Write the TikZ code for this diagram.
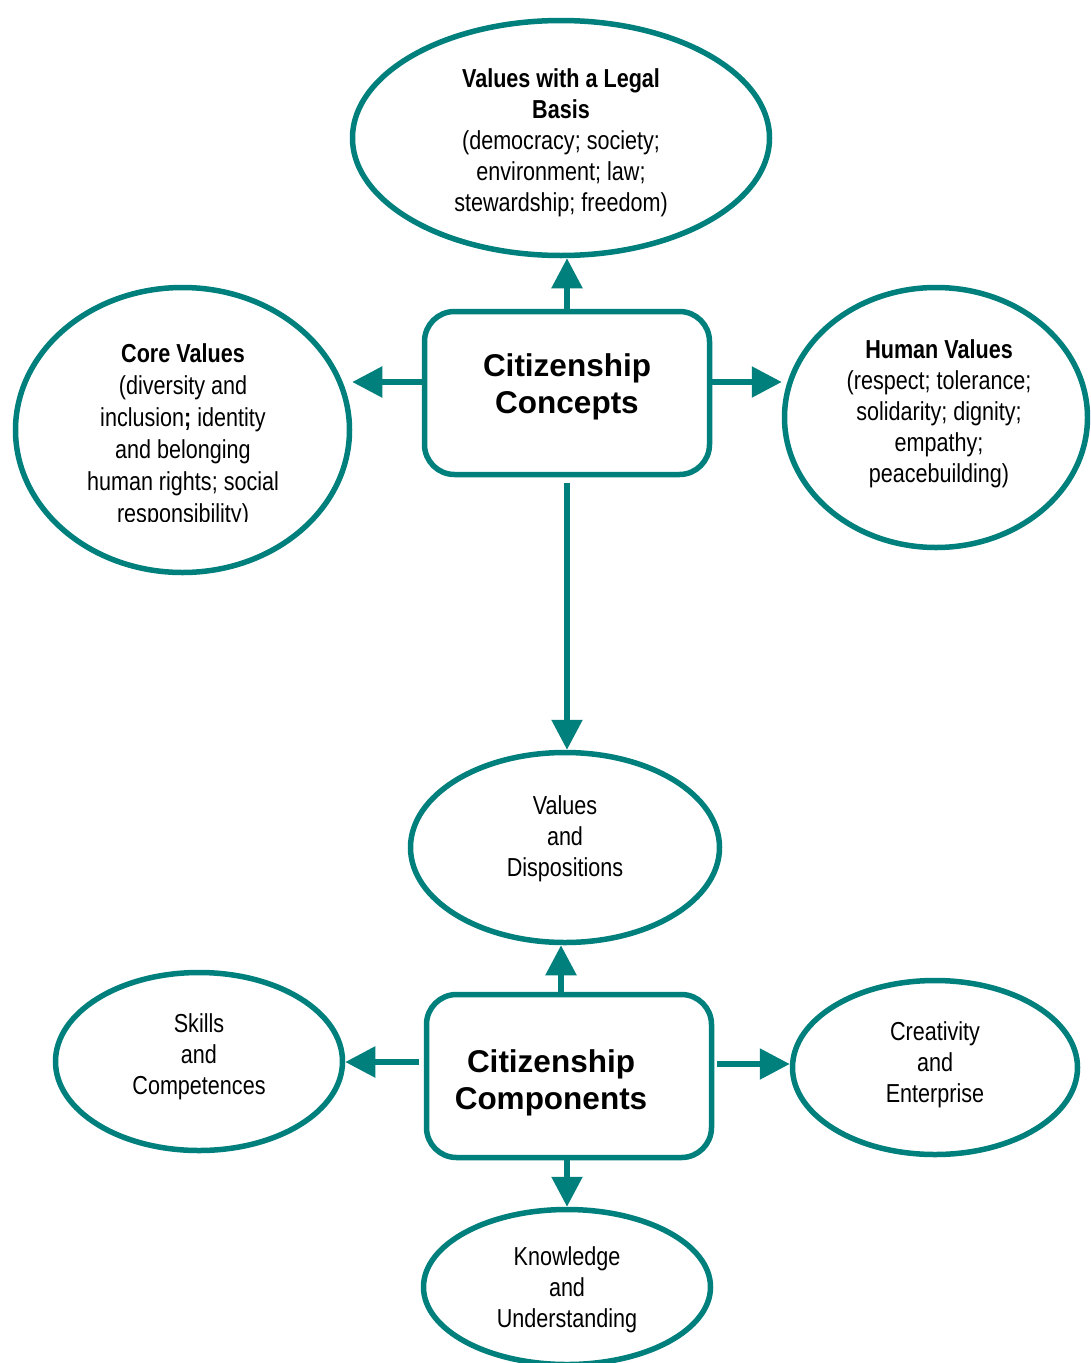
\documentclass[tikz,border=0pt]{standalone}
\usepackage{fontspec}
\setmainfont{Liberation Sans}[FakeStretch=0.83]
\newfontfamily\titlefont{Liberation Sans}
\usetikzlibrary{shapes.geometric,arrows.meta}
\definecolor{teal1}{RGB}{0,128,125}
\begin{document}
\begin{tikzpicture}[x=1pt,y=-1pt,
  oval/.style={ellipse,draw=teal1,line width=5.5pt,inner sep=0pt,fill=white},
  cbox/.style={draw=teal1,line width=5.5pt,rounded corners=30pt,minimum width=285pt,minimum height=163pt,inner sep=0pt},
  arr/.style={draw=teal1,line width=5.5pt,-{Triangle[width=30pt,length=30pt]}},
  txt/.style={align=center,font=\fontsize{26}{31}\selectfont,inner sep=0pt},
  ttl/.style={align=center,font=\titlefont\bfseries\fontsize{31.5}{37}\selectfont,inner sep=0pt}]
\useasboundingbox (0,0) rectangle (1090,1363);
\clip (0,0) rectangle (1090,1363);
% shapes
\node[oval,minimum width=417pt,minimum height=235pt] (top) at (561,138) {};
\node[oval,minimum width=334pt,minimum height=285pt] (core) at (182.5,430) {};
\node[oval,minimum width=303pt,minimum height=260pt] (human) at (936,417.5) {};
\node[cbox] (cc) at (567,393) {};
\node[oval,minimum width=309pt,minimum height=190pt] (vd) at (565,847.5) {};
\node[cbox] (comp) at (569,1076) {};
\node[oval,minimum width=287pt,minimum height=178pt] (skills) at (199,1061.5) {};
\node[oval,minimum width=285pt,minimum height=174pt] (creat) at (935,1067.5) {};
\node[oval,minimum width=287pt,minimum height=155pt] (know) at (567,1287) {};
% texts
\node[txt] (toptxt) at (561,143) {\textbf{Values with a Legal}\\\textbf{Basis}\\(democracy; society;\\environment; law;\\stewardship; freedom)};
\begin{scope}
\clip (0,0) rectangle (1090,521);
\node[txt,font=\fontsize{26}{32}\selectfont] (coretxt) at (183,436) {\textbf{Core Values}\\(diversity and\\inclusion\textbf{;} identity\\and belonging\\human rights; social\\responsibility)};
\end{scope}
\node[txt] (humantxt) at (939,414) {\textbf{Human Values}\\(respect; tolerance;\\solidarity; dignity;\\empathy;\\peacebuilding)};
\node[ttl] (cctxt) at (567,387) {Citizenship\\Concepts};
\node[txt] (vdtxt) at (565,839) {Values\\and\\Dispositions};
\node[ttl] (comptxt) at (551,1083) {Citizenship\\Components};
\node[txt] (skillstxt) at (199,1057) {Skills\\and\\Competences};
\node[txt] (creattxt) at (935,1065) {Creativity\\and\\Enterprise};
\node[txt] (knowtxt) at (567,1290) {Knowledge\\and\\Understanding};
% connectors
\draw[arr] (cc.north) -- (cc.north |- top.south);
\draw[arr] ([yshift=11pt]cc.west) -- ([yshift=11pt]cc.west -| core.east);
\draw[arr] ([yshift=11pt]cc.east) -- ([yshift=11pt]cc.east -| human.west);
\draw[arr] ([yshift=-6pt]cc.south) -- (cc.south |- vd.north);
\draw[arr] ([xshift=-8pt]comp.north) -- ([xshift=-8pt]comp.north |- vd.south);
\draw[arr] ([yshift=14pt,xshift=-5pt]comp.west) -- ([yshift=14pt]comp.west -| skills.east);
\draw[arr] ([yshift=12pt,xshift=3pt]comp.east) -- ([yshift=12pt]comp.east -| creat.west);
\draw[arr] ([xshift=-2pt]comp.south) -- ([xshift=-2pt]comp.south |- know.north);
\end{tikzpicture}
\end{document}
